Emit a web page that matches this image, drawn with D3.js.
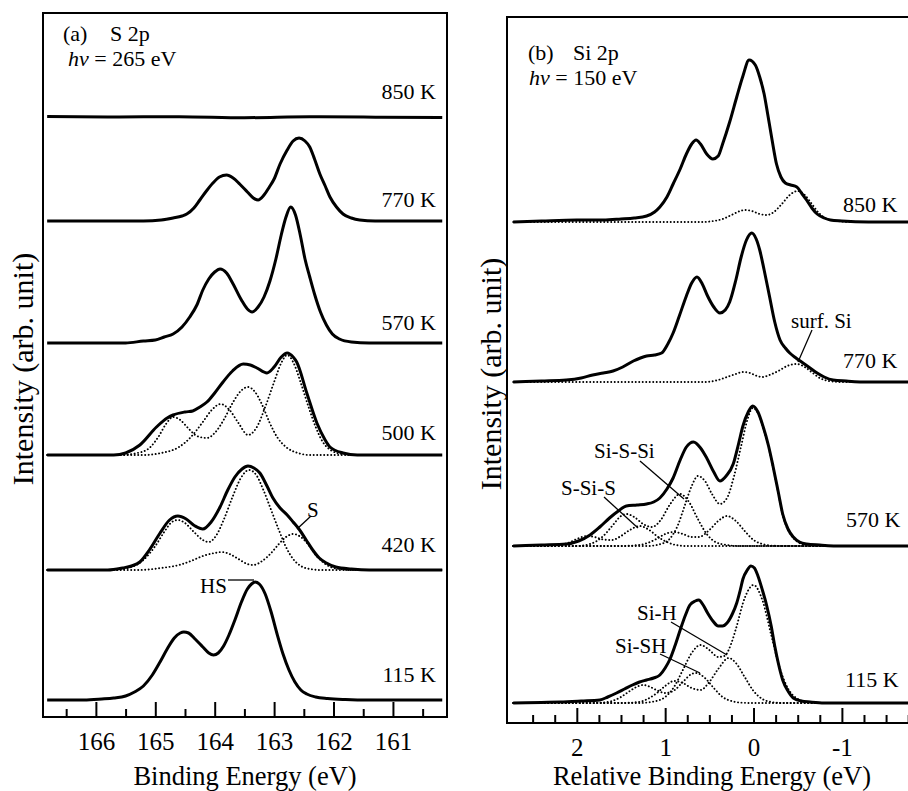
<!DOCTYPE html>
<html><head><meta charset="utf-8">
<script src="https://cdn.jsdelivr.net/npm/d3@7"></script>
<style>body{margin:0;background:#fff}</style>
</head><body>
<svg id="c" width="908" height="791"></svg>
<script>
// ---------------- DATA ----------------
// Panel (a) S 2p : [binding energy (eV), intensity above the spectrum baseline (arb.)]
const leftTemps   = ["850 K","770 K","570 K","500 K","420 K","115 K"];
const leftOffsets = [600, 496, 374, 262, 147, 17];
const leftMajorTicks = [166,165,164,163,162,161];
const leftMinorTicks = [166.5,165.5,164.5,163.5,162.5,161.5,160.5];

const sL850 = [[166.82,0.4],[165.8,0],[164.6,0.3],[163.5,-0.7],[162.4,0.2],[161.2,-0.2],[160.17,-0.4]];
const sL770 = [[166.82,0],[165.2,0],[164.9,1],[164.7,3],[164.55,5],[164.47,7],[164.35,13],[164.25,21],[164.14,30],[164.03,38],[163.92,44],[163.8,46],[163.69,43],[163.58,37],[163.45,29],[163.35,23],[163.27,21],[163.17,26],[163.08,34],[163.0,42],[162.9,57],[162.78,71],[162.68,80],[162.58,83],[162.48,80],[162.4,74],[162.32,62],[162.23,47],[162.14,35],[162.06,24],[161.95,14],[161.84,7],[161.7,3],[161.56,1],[161.3,0],[160.17,0]];
const sL570 = [[166.82,0],[165.5,0],[165.2,2],[165.0,3],[164.85,6],[164.7,9],[164.55,16],[164.42,26],[164.3,38],[164.2,53],[164.1,64],[164.0,71],[163.91,74],[163.8,70],[163.69,59],[163.55,43],[163.45,34],[163.37,31],[163.27,36],[163.17,46],[163.07,62],[162.97,84],[162.88,108],[162.8,126],[162.72,136],[162.64,128],[162.56,108],[162.48,84],[162.4,66],[162.32,49],[162.22,31],[162.12,18],[162.02,9],[161.9,4],[161.7,1],[161.4,0],[160.17,0]];
const sL500 = [[166.82,0],[165.7,0],[165.5,2],[165.26,10],[164.98,28],[164.8,37],[164.7,40],[164.5,43],[164.37,44],[164.25,48],[164.13,53],[164.0,62],[163.86,73],[163.7,84],[163.52,91],[163.4,90],[163.29,87],[163.12,82],[163.0,88],[162.88,98],[162.78,102],[162.68,98],[162.62,93],[162.45,62],[162.28,32],[162.15,16],[162.06,8],[161.84,2],[161.6,0],[160.17,0]];
const cL500a = [[166.82,0],[165.6,0],[165.3,2],[165.1,7],[164.95,18],[164.82,31],[164.7,38],[164.58,35],[164.45,27],[164.3,19],[164.13,17],[164.0,22],[163.85,35],[163.7,52],[163.56,64],[163.44,68],[163.32,63],[163.2,50],[163.08,33],[162.95,18],[162.8,8],[162.6,2],[162.4,0],[160.17,0]];
const cL500b = [[166.82,0],[165.2,0],[164.9,2],[164.6,8],[164.4,18],[164.2,33],[164.05,45],[163.9,51],[163.75,45],[163.6,32],[163.44,20],[163.3,27],[163.15,48],[163.0,73],[162.88,92],[162.78,100],[162.68,93],[162.55,72],[162.42,48],[162.3,28],[162.18,13],[162.05,5],[161.85,1],[161.6,0],[160.17,0]];
const sL420 = [[166.82,0],[165.8,0],[165.55,2],[165.4,4],[165.26,8],[165.1,20],[164.92,37],[164.76,50],[164.62,54],[164.48,51],[164.33,44],[164.2,41],[164.06,48],[163.91,63],[163.78,80],[163.66,93],[163.54,101],[163.44,104],[163.34,102],[163.24,97],[163.12,84],[163.02,72],[162.9,62],[162.78,55],[162.68,48],[162.57,40],[162.46,30],[162.35,20],[162.24,12],[162.12,7],[161.96,3],[161.7,1],[161.4,0],[160.17,0]];
const cL420hs = [[166.82,0],[165.7,0],[165.4,3],[165.2,10],[165.0,24],[164.85,38],[164.72,48],[164.62,50],[164.5,47],[164.35,38],[164.2,30],[164.1,28],[163.98,34],[163.85,50],[163.7,73],[163.56,92],[163.42,100],[163.3,95],[163.18,80],[163.05,60],[162.92,40],[162.8,23],[162.68,11],[162.55,4],[162.4,1],[162.2,0],[160.17,0]];
const cL420s = [[166.82,0],[165.3,0],[164.9,2],[164.6,5],[164.4,9],[164.2,14],[164.0,17],[163.88,18],[163.75,16],[163.6,11],[163.45,6],[163.35,5],[163.2,9],[163.05,17],[162.92,26],[162.8,33],[162.68,36],[162.55,33],[162.42,25],[162.3,15],[162.18,8],[162.05,3],[161.9,1],[161.7,0],[160.17,0]];
const sL115 = [[166.82,0],[166.2,0],[165.9,1],[165.7,2],[165.5,4],[165.35,8],[165.2,14],[165.05,25],[164.92,38],[164.8,51],[164.68,62],[164.58,67],[164.52,68],[164.44,67],[164.33,61],[164.2,53],[164.1,47],[164.02,45],[163.94,47],[163.85,54],[163.76,65],[163.66,80],[163.55,98],[163.45,111],[163.38,116],[163.32,118],[163.25,116],[163.15,106],[163.05,88],[162.95,66],[162.85,46],[162.75,30],[162.65,18],[162.55,10],[162.45,6],[162.3,3],[162.1,1.5],[161.8,0.5],[161.4,0],[160.17,0]];

// Panel (b) Si 2p : [relative binding energy (eV), intensity above baseline]
const rightTemps   = ["850 K","770 K","570 K","115 K"];
const rightOffsets = [501, 341, 177, 20];
const rightMajorTicks = [2,1,0,-1];
const rightMinorTicks = [2.5,2.25,1.75,1.5,1.25,0.75,0.5,0.25,-0.25,-0.5,-0.75,-1.25,-1.5,-1.75];

const sR850 = [[2.72,0],[2.4,1],[2.0,2],[1.7,2],[1.5,3],[1.35,4],[1.21,6],[1.12,10],[1.06,15],[0.98,25],[0.91,38],[0.83,53],[0.76,68],[0.7,78],[0.65,82],[0.6,78],[0.53,68],[0.46,63],[0.4,66],[0.35,78],[0.27,100],[0.19,125],[0.12,146],[0.05,162],[-0.02,157],[-0.07,145],[-0.12,128],[-0.16,108],[-0.21,82],[-0.26,58],[-0.31,45],[-0.36,39],[-0.42,37],[-0.49,35],[-0.55,28],[-0.6,22],[-0.66,14],[-0.72,8],[-0.8,4],[-0.87,2],[-1.0,1],[-1.3,0],[-1.8,0]];
const cR850 = [[2.72,0],[0.6,0],[0.45,1],[0.35,3],[0.25,7],[0.15,11],[0.1,12],[0.02,11],[-0.07,8],[-0.15,7],[-0.23,10],[-0.32,18],[-0.41,27],[-0.5,31],[-0.58,27],[-0.66,18],[-0.74,9],[-0.83,3],[-0.95,1],[-1.1,0],[-1.8,0]];
const sR770 = [[2.72,0],[2.4,1],[2.12,2],[1.95,4],[1.82,7],[1.7,9],[1.59,11],[1.48,15],[1.36,21],[1.28,24],[1.21,26],[1.12,27],[1.04,29],[0.97,38],[0.91,49],[0.84,66],[0.76,86],[0.7,99],[0.64,105],[0.58,98],[0.52,86],[0.45,75],[0.38,69],[0.32,72],[0.27,80],[0.2,102],[0.14,125],[0.08,142],[0.02,149],[-0.03,143],[-0.07,132],[-0.12,112],[-0.18,86],[-0.24,60],[-0.3,42],[-0.36,34],[-0.41,29],[-0.48,24],[-0.56,19],[-0.64,14],[-0.72,9],[-0.8,5],[-0.9,2],[-1.05,1],[-1.3,0],[-1.8,0]];
const cR770 = [[2.72,0],[0.55,0],[0.4,2],[0.3,5],[0.2,8],[0.12,10],[0.04,9],[-0.04,6],[-0.1,5],[-0.18,7],[-0.28,11],[-0.38,16],[-0.49,18],[-0.58,15],[-0.67,9],[-0.75,4],[-0.85,1],[-1.0,0],[-1.8,0]];
const sR570 = [[2.72,0],[2.4,1],[2.12,2],[1.98,5],[1.85,11],[1.74,19],[1.63,28],[1.53,35],[1.44,40],[1.32,41],[1.21,42],[1.13,44],[1.06,48],[0.98,57],[0.91,68],[0.83,86],[0.76,99],[0.68,104],[0.6,98],[0.53,88],[0.45,74],[0.38,65],[0.31,70],[0.23,82],[0.17,102],[0.12,120],[0.06,134],[0.01,140],[-0.05,134],[-0.11,119],[-0.17,100],[-0.22,80],[-0.28,54],[-0.33,32],[-0.39,17],[-0.45,9],[-0.52,4],[-0.6,2],[-0.75,1],[-1.0,0],[-1.8,0]];
const cR570bulk = [[2.72,0],[1.2,0],[1.05,2],[0.95,7],[0.86,20],[0.78,40],[0.7,60],[0.63,70],[0.55,65],[0.47,52],[0.38,42],[0.3,48],[0.22,70],[0.14,100],[0.07,126],[0.01,138],[-0.05,133],[-0.11,118],[-0.17,99],[-0.22,79],[-0.28,53],[-0.33,31],[-0.39,16],[-0.45,8],[-0.52,3],[-0.6,1],[-0.75,0],[-1.8,0]];
const cR570sisi = [[2.72,0],[2.0,0],[1.85,2],[1.7,10],[1.6,20],[1.5,30],[1.44,32],[1.35,29],[1.25,22],[1.15,19],[1.05,26],[0.95,41],[0.83,52],[0.73,44],[0.63,27],[0.53,12],[0.43,4],[0.3,1],[0.15,0],[-1.8,0]];
const cR570ssis = [[2.72,0],[2.35,0],[2.2,1],[2.1,3],[2.0,7],[1.89,10],[1.8,9],[1.7,6.5],[1.6,6],[1.5,10],[1.4,16],[1.29,20],[1.18,16],[1.08,9],[0.98,4],[0.88,1],[0.75,0],[-1.8,0]];
const cR570x = [[2.72,0],[1.5,0],[1.3,1],[1.2,3],[1.1,7],[1.0,12],[0.9,14],[0.8,12],[0.7,9],[0.62,9],[0.5,16],[0.4,25],[0.3,30],[0.2,25],[0.1,15],[0.0,6],[-0.1,2],[-0.2,0.4],[-0.35,0],[-1.8,0]];
const sR115 = [[2.72,0],[2.4,0.5],[2.19,1],[1.95,2],[1.74,3],[1.65,6],[1.55,10],[1.46,14],[1.37,18],[1.29,21],[1.21,23],[1.13,25],[1.06,28],[1.0,35],[0.95,43],[0.89,57],[0.83,73],[0.77,88],[0.72,98],[0.66,102],[0.62,103],[0.57,98],[0.52,90],[0.46,82],[0.4,77],[0.35,77],[0.3,80],[0.24,89],[0.19,100],[0.15,113],[0.12,124],[0.07,133],[0.03,137],[-0.01,135],[-0.05,127],[-0.1,113],[-0.15,97],[-0.2,77],[-0.24,57],[-0.28,40],[-0.33,23],[-0.39,12],[-0.45,5],[-0.54,2],[-0.64,1],[-0.8,0],[-1.8,0]];
const cR115bulk = [[2.72,0],[1.3,0],[1.1,2],[1.0,6],[0.9,16],[0.8,33],[0.7,50],[0.6,58],[0.5,53],[0.4,46],[0.33,47],[0.25,60],[0.2,74],[0.1,105],[0.0,118],[-0.1,103],[-0.2,68],[-0.3,34],[-0.4,13],[-0.5,4],[-0.6,1],[-0.75,0],[-1.8,0]];
const cR115sih = [[2.72,0],[1.5,0],[1.3,1],[1.2,4],[1.1,9.5],[1.0,17],[0.9,22],[0.8,20],[0.7,15],[0.6,13],[0.5,21],[0.4,34],[0.28,45],[0.2,40],[0.1,26],[0.0,12],[-0.1,4],[-0.2,1],[-0.32,0],[-1.8,0]];
const cR115sish = [[2.72,0],[1.9,0],[1.7,0.5],[1.6,2],[1.5,6],[1.4,12],[1.3,17],[1.25,18],[1.18,16.5],[1.1,13],[1.0,10],[0.9,12.5],[0.8,21],[0.7,29],[0.65,30],[0.55,25],[0.45,15],[0.35,6],[0.25,2],[0.15,0.4],[0.0,0],[-1.8,0]];

const leftSolid = [sL850, sL770, sL570, sL500, sL420, sL115];
const leftDotted = [[], [], [], [cL500a, cL500b], [cL420hs, cL420s], []];
const rightSolid = [sR850, sR770, sR570, sR115];
const rightDotted = [[cR850], [cR770], [cR570bulk, cR570sisi, cR570ssis, cR570x], [cR115bulk, cR115sih, cR115sish]];

// ---------------- DRAWING ----------------
const FONT = '"Liberation Serif", Tinos, "Times New Roman"';
const svg = d3.select("#c");
svg.append("rect").attr("width",908).attr("height",791).attr("fill","#fff");

function txt(sel, size){
  return sel.style("font-family", FONT).style("font-size", size + "px").style("fill", "#000");
}

function panel(cfg){
  const {x, y, solid, dotted, offsets, major, minor, fmt} = cfg;
  const [x0,x1] = x.range(), [yb,yt] = y.range();
  const g = svg.append("g");
  const clipId = "clip" + Math.round(x0);
  svg.append("clipPath").attr("id", clipId).append("rect")
    .attr("x", x0).attr("y", yt).attr("width", x1 - x0).attr("height", yb - yt);
  const curves = g.append("g").attr("clip-path", `url(#${clipId})`);
  offsets.forEach((off, i) => {
    const line = d3.line().x(d => x(d[0])).y(d => y(off + d[1])).curve(d3.curveMonotoneX);
    dotted[i].forEach(c => {
      curves.append("path").attr("d", line(c)).attr("fill","none").attr("stroke","#000")
        .attr("stroke-width",1.9).attr("stroke-linecap","round").attr("stroke-dasharray","0.1 3.4");
    });
    curves.append("path").attr("d", line(solid[i])).attr("fill","none").attr("stroke","#000")
      .attr("stroke-width",3).attr("stroke-linejoin","round");
  });
  g.append("rect").attr("x",x0).attr("y",yt).attr("width",x1-x0).attr("height",yb-yt)
    .attr("fill","none").attr("stroke","#000").attr("stroke-width",2);
  const ax = g.append("g").attr("transform",`translate(0,${yb})`)
    .call(d3.axisBottom(x).tickValues(major).tickSize(-15).tickPadding(15).tickFormat(fmt));
  ax.select(".domain").remove();
  ax.attr("font-size",null).attr("font-family",null);
  txt(ax.selectAll("text"), 25);
  ax.selectAll("line").attr("stroke-width",2);
  const axm = g.append("g").attr("transform",`translate(0,${yb})`)
    .call(d3.axisBottom(x).tickValues(minor).tickSize(-8).tickFormat(""));
  axm.select(".domain").remove();
  axm.selectAll("line").attr("stroke-width",2);
  return g;
}

const xL = d3.scaleLinear().domain([166.89,160.09]).range([43,447]);
const yL = d3.scaleLinear().domain([0,704]).range([717,13]);
const xR = d3.scaleLinear().domain([2.79,-1.85]).range([507,917]);
const yR = d3.scaleLinear().domain([0,706]).range([723,17]);

panel({x:xL, y:yL, solid:leftSolid, dotted:leftDotted, offsets:leftOffsets,
       major:leftMajorTicks, minor:leftMinorTicks, fmt:d=>String(d)});
panel({x:xR, y:yR, solid:rightSolid, dotted:rightDotted, offsets:rightOffsets,
       major:rightMajorTicks, minor:rightMinorTicks, fmt:d=>String(d)});

const leftLabelY = [99, 207, 330, 440, 552, 682];
leftTemps.forEach((t,i) => txt(svg.append("text").attr("x",436).attr("y",leftLabelY[i])
  .attr("text-anchor","end").text(t), 22));
const rightLabelX = [843, 843, 846, 845];
const rightLabelY = [212, 368, 527, 687];
rightTemps.forEach((t,i) => txt(svg.append("text").attr("x",rightLabelX[i]).attr("y",rightLabelY[i]).text(t), 22));

function title(x1, x2, y1, lab, core, x3, y2, energy){
  const t = txt(svg.append("text").attr("y",y1), 22);
  t.append("tspan").attr("x",x1).text(lab);
  t.append("tspan").attr("x",x2).text(core);
  const h = txt(svg.append("text").attr("x",x3).attr("y",y2), 22);
  h.append("tspan").style("font-style","italic").text("hν");
  h.append("tspan").text(" = " + energy);
}
title(63, 110, 41, "(a)", "S 2p", 68, 66, "265 eV");
title(528, 573, 60, "(b)", "Si 2p", 529, 85, "150 eV");

txt(svg.append("text").attr("x",245).attr("y",785).attr("text-anchor","middle")
  .text("Binding Energy (eV)"), 26.5);
txt(svg.append("text").attr("x",712).attr("y",785).attr("text-anchor","middle")
  .text("Relative Binding Energy (eV)"), 26.5);
txt(svg.append("text").attr("transform","translate(33,369) rotate(-90)").attr("text-anchor","middle")
  .text("Intensity (arb. unit)"), 30);
txt(svg.append("text").attr("transform","translate(501,374) rotate(-90)").attr("text-anchor","middle")
  .text("Intensity (arb. unit)"), 30);

function note(label, tx, ty, lx1, ly1, lx2, ly2){
  txt(svg.append("text").attr("x",tx).attr("y",ty).text(label), 21);
  svg.append("line").attr("x1",lx1).attr("y1",ly1).attr("x2",lx2).attr("y2",ly2)
    .attr("stroke","#000").attr("stroke-width",1.3);
}
note("S", 307, 517, 311, 516, 297, 529);
note("HS", 200, 593, 228, 580, 254, 580);
note("surf. Si", 791, 328, 812, 330, 798, 362);
note("Si-S-Si", 594, 458, 640, 461, 684, 499);
note("S-Si-S", 561, 495, 604, 497, 638, 528);
note("Si-H", 637, 620, 671, 622, 727, 655);
note("Si-SH", 615, 653, 660, 654, 700, 673);
</script>
</body></html>
